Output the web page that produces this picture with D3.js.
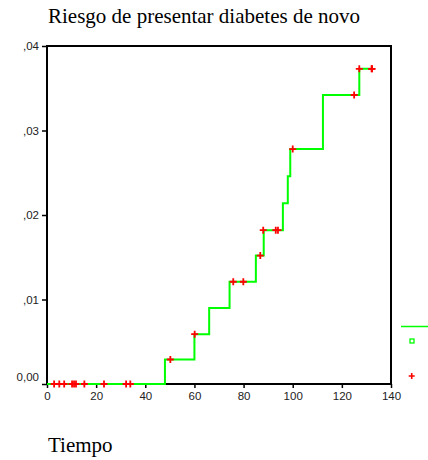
<!DOCTYPE html>
<html lang="es"><head><meta charset="utf-8">
<title>Riesgo de presentar diabetes de novo</title>
<script src="https://cdn.jsdelivr.net/npm/d3@7"></script>
<style>
  body { margin: 0; background: #fff; }
</style>
</head>
<body>
<script>
// tiempos en los que cambia el escalón y riesgo acumulado tras el cambio
var stepTimes = [0, 48, 60, 66, 74.3, 85, 88.2, 96, 98, 99, 112.3, 127.1];
var stepRisk = [0, 0.0029, 0.0059, 0.0090, 0.0121, 0.0152, 0.0182, 0.0214, 0.0246, 0.0278, 0.0342, 0.0373];
var lastTime = 132.1;

// casos censurados
var censTimes = [2.9, 5, 7, 10.2, 11, 11.8, 15.2, 23.2, 32.2, 33.9,
                 50.2, 60.1, 75.8, 79.9, 86.8, 88, 93.1, 94, 100, 125, 127.1, 132.1, 132.3];
var censRisk = [0, 0, 0, 0, 0, 0, 0, 0, 0, 0,
                0.0029, 0.0059, 0.0121, 0.0121, 0.0152, 0.0182, 0.0182, 0.0182, 0.0278, 0.0342, 0.0373, 0.0373, 0.0373];

var xTicks = [0, 20, 40, 60, 80, 100, 120, 140];
var yTicks = [0, 0.01, 0.02, 0.03, 0.04];
var yTickLabels = ["0,00", ",01", ",02", ",03", ",04"];

var width = 428, height = 460;
var plotLeft = 47, plotRight = 391, plotTop = 46, plotBottom = 384;

var x = d3.scaleLinear().domain([0, 140]).range([plotLeft, plotRight]);
var y = d3.scaleLinear().domain([0, 0.04]).range([plotBottom, plotTop]);

var svg = d3.select("body").append("svg")
    .attr("width", width)
    .attr("height", height);

svg.append("text")
    .attr("x", 48)
    .attr("y", 23)
    .attr("font-family", "Liberation Serif, Times New Roman, serif")
    .attr("font-size", 21)
    .text("Riesgo de presentar diabetes de novo");

svg.append("text")
    .attr("x", 48)
    .attr("y", 452)
    .attr("font-family", "Liberation Serif, Times New Roman, serif")
    .attr("font-size", 21)
    .text("Tiempo");

// marco
svg.append("rect")
    .attr("x", plotLeft)
    .attr("y", plotTop)
    .attr("width", plotRight - plotLeft)
    .attr("height", plotBottom - plotTop)
    .attr("fill", "none")
    .attr("stroke", "black")
    .attr("stroke-width", 2);

var xAxis = d3.axisBottom(x).tickValues(xTicks).tickSize(4).tickSizeOuter(0).tickPadding(4);
var yAxis = d3.axisLeft(y).tickValues(yTicks).tickSize(5).tickSizeOuter(0).tickPadding(3)
    .tickFormat(function (d, i) { return yTickLabels[i]; });

var gx = svg.append("g")
    .attr("transform", "translate(0," + plotBottom + ")")
    .call(xAxis);
var gy = svg.append("g")
    .attr("transform", "translate(" + plotLeft + ",0)")
    .call(yAxis);

[gx, gy].forEach(function (g) {
    g.select(".domain").remove();
    g.selectAll("line").attr("stroke", "black").attr("stroke-width", 1.5);
    g.selectAll("text")
        .attr("font-family", "Liberation Sans, Arial, sans-serif")
        .attr("font-size", 11.5)
        .attr("fill", "#222");
});

// la etiqueta del cero queda algo por encima de su marca
gy.selectAll(".tick text").filter(function (d) { return d === 0; })
    .attr("y", -7);

// curva escalonada
var stepData = stepTimes.map(function (t, i) { return [t, stepRisk[i]]; });
stepData.push([lastTime, stepRisk[stepRisk.length - 1]]);

var line = d3.line()
    .x(function (d) { return x(d[0]); })
    .y(function (d) { return y(d[1]); })
    .curve(d3.curveStepAfter);

svg.append("path")
    .datum(stepData)
    .attr("d", line)
    .attr("fill", "none")
    .attr("stroke", "#00ff00")
    .attr("stroke-width", 2);

// censurados
var plusPath = "M-3.5,0H3.5M0,-3.5V3.5";
svg.append("g").selectAll("path")
    .data(censTimes)
    .enter().append("path")
    .attr("transform", function (d, i) {
        return "translate(" + x(d) + "," + y(censRisk[i]) + ")";
    })
    .attr("d", plusPath)
    .attr("stroke", "#ff0000")
    .attr("stroke-width", 1.8)
    .attr("fill", "none");

// leyenda
svg.append("line")
    .attr("x1", 401).attr("x2", 428)
    .attr("y1", 326.5).attr("y2", 326.5)
    .attr("stroke", "#00ff00")
    .attr("stroke-width", 1.5);

svg.append("rect")
    .attr("x", 410).attr("y", 339)
    .attr("width", 4).attr("height", 4)
    .attr("fill", "none")
    .attr("stroke", "#00ff00")
    .attr("stroke-width", 1.3);

svg.append("path")
    .attr("transform", "translate(411.7,376)")
    .attr("d", "M-3,0H3M0,-3V3")
    .attr("stroke", "#ff0000")
    .attr("stroke-width", 1.6);
</script>
</body></html>
